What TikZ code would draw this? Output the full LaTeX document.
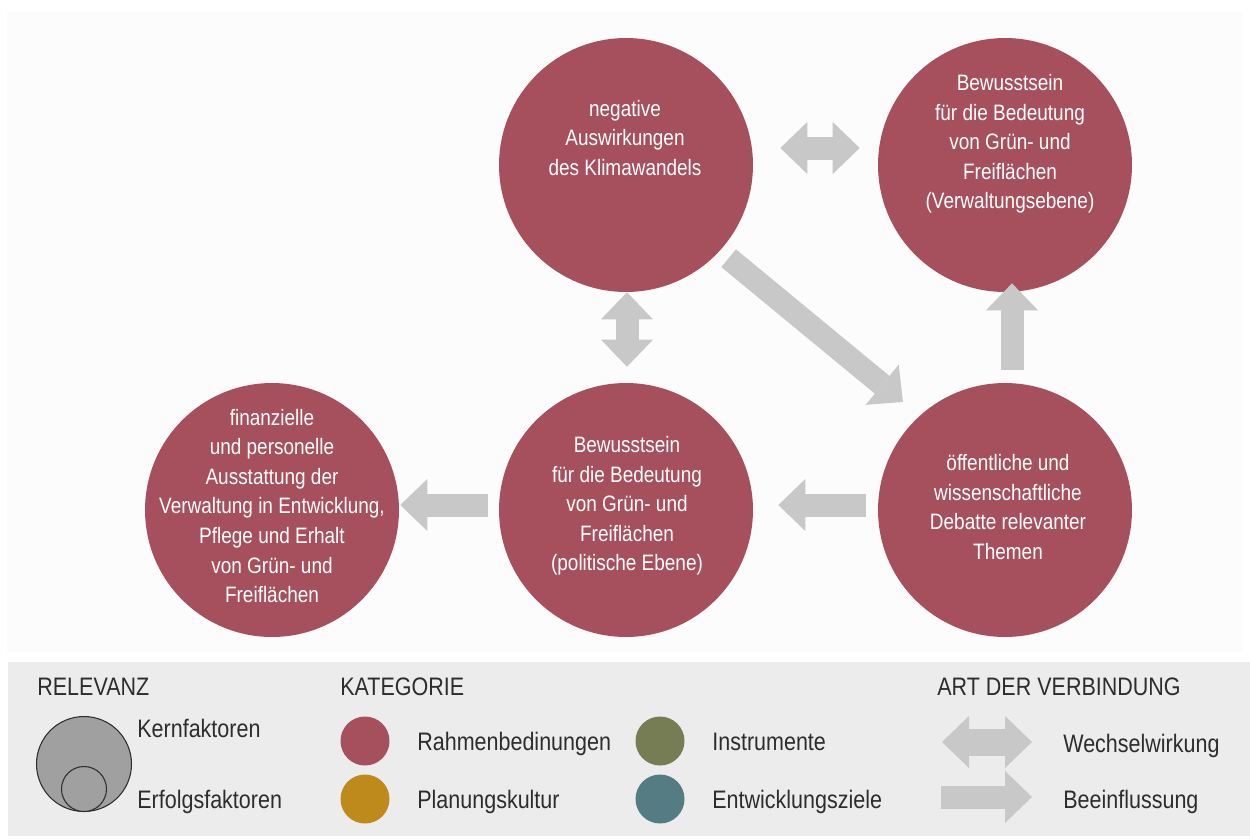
\documentclass[tikz,border=0pt]{standalone}
\usepackage{fontspec}
\setmainfont{Liberation Sans}[FakeStretch=0.85]
\usepackage{tikz}
\usetikzlibrary{
  arrows.meta,
  calc
}
\definecolor{rahmen}{RGB}{166,80,94}
\definecolor{planung}{RGB}{190,138,28}
\definecolor{instr}{RGB}{118,124,84}
\definecolor{ziel}{RGB}{84,124,130}
\definecolor{pfeil}{RGB}{200,200,200}
\definecolor{band}{RGB}{236,236,236}
\definecolor{oben}{RGB}{252,252,252}
\definecolor{schrift}{RGB}{45,45,45}
\definecolor{relev}{RGB}{160,160,160}

\begin{document}
\begin{tikzpicture}[x=0.02cm,y=-0.02cm,
  faktor/.style={circle, fill=rahmen, minimum size=5.08cm, inner sep=0pt},
  ftext/.style={text=white, align=center, inner sep=0pt,
    font=\fontsize{12.7}{16.8}\selectfont},
  wechsel/.style={draw=pfeil, line width=0.46cm, {Triangle[width=1.04cm, length=0.54cm, line width=0pt]}-{Triangle[width=1.04cm, length=0.54cm, line width=0pt]}},
  einfluss/.style={draw=pfeil, line width=0.46cm, -{Triangle[width=1.04cm, length=0.54cm, line width=0pt]}},
  legtext/.style={text=schrift, anchor=base west, inner sep=0pt,
    font=\fontsize{14.4}{16}\selectfont},
  kat/.style={circle, minimum size=0.98cm, inner sep=0pt}
]

  \useasboundingbox (0,0) rectangle (1250,839);
  \fill[oben] (7,12) rectangle (1243,652);

  % factors
  \node[faktor] (klima) at (626,165) {};
  \node[faktor] (bewusstVerw) at (1005,165) {};
  \node[faktor] (debatte) at (1005,510) {};
  \node[faktor] (bewusstPol) at (626,510) {};
  \node[faktor] (ausstattung) at (272,510) {};

  \node[ftext] (klimaT) at (625,138)
    {negative\\Auswirkungen\\des Klimawandels};
  \node[ftext] (bewusstVerwT) at (1010,144)
    {Bewusstsein\\für die Bedeutung\\von Grün- und\\Freiflächen\\(Verwaltungsebene)};
  \node[ftext] (debatteT) at (1008,507)
    {öffentliche und\\wissenschaftliche\\Debatte relevanter\\Themen};
  \node[ftext] (bewusstPolT) at (627,506)
    {Bewusstsein\\für die Bedeutung\\von Grün- und\\Freiflächen\\(politische Ebene)};
  \node[ftext] (ausstattungT) at (272,506)
    {finanzielle\\und personelle\\Ausstattung der\\Verwaltung in Entwicklung,\\Pflege und Erhalt\\von Grün- und\\Freiflächen};

  % connections
  \draw[wechsel] ($(klima.east)+(27,-17)$) -- ($(bewusstVerw.west)+(-18,-17)$);
  \draw[wechsel] ($(klima.south)+(1,0)$) -- ($(bewusstPol.north)+(1,-16)$);
  \draw[einfluss] ($(klima.-42)+(8,8)$) -- ($(debatte.135)+(-12,-18)$);
  \draw[einfluss] ($(debatte.north)+(7,-13)$) -- ($(bewusstVerw.south)+(7,-9)$);
  \draw[einfluss] ($(debatte.west)+(-12,-5)$) -- ($(bewusstPol.east)+(25,-5)$);
  \draw[einfluss] ($(bewusstPol.west)+(-11,-5)$) -- ($(ausstattung.east)+(1,-5)$);

  % legend
  \fill[band] (8,662) rectangle (1250,836);

  \node[legtext] (relevanz) at (37,695) {RELEVANZ};
  \node[circle, draw=schrift, fill=relev, line width=0.6pt, minimum size=1.9cm,
    inner sep=0pt] (kern) at (84,764) {};
  \node[circle, draw=schrift, fill=relev, line width=0.6pt, minimum size=0.9cm,
    inner sep=0pt] (erfolg) at (84,789) {};
  \node[legtext] (kernT) at (137,737) {Kernfaktoren};
  \node[legtext] (erfolgT) at (137,808) {Erfolgsfaktoren};

  \node[legtext] (kategorie) at (340,695) {KATEGORIE};
  \node[kat, fill=rahmen] (katRahmen) at (365,741) {};
  \node[kat, fill=planung] (katPlanung) at (365,799) {};
  \node[kat, fill=instr] (katInstr) at (660,741) {};
  \node[kat, fill=ziel] (katZiel) at (660,799) {};
  \node[legtext] (katRahmenT) at (417,750) {Rahmenbedinungen};
  \node[legtext] (katPlanungT) at (417,808) {Planungskultur};
  \node[legtext] (katInstrT) at (712,750) {Instrumente};
  \node[legtext] (katZielT) at (712,808) {Entwicklungsziele};

  \node[legtext] (verbindung) at (937,695) {ART DER VERBINDUNG};
  \coordinate (wA) at (942,742);
  \coordinate (wB) at (1032,742);
  \coordinate (bA) at (941,797);
  \coordinate (bB) at (1032,797);
  \draw[wechsel, line width=0.54cm] (wA) -- (wB);
  \draw[einfluss] (bA) -- (bB);
  \node[legtext] (wT) at (1063,752) {Wechselwirkung};
  \node[legtext] (bT) at (1063,808) {Beeinflussung};

\end{tikzpicture}
\end{document}
